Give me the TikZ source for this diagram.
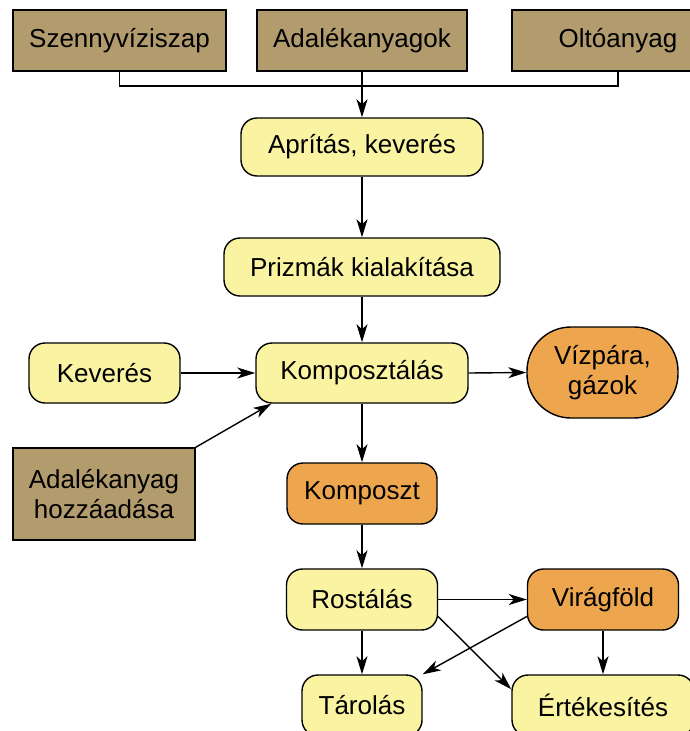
\documentclass[tikz,border=0pt]{standalone}
\usepackage{fontspec}
\setmainfont{Liberation Sans}
\usetikzlibrary{arrows.meta,calc}
\definecolor{tanfill}{RGB}{178,156,110}
\definecolor{paleyellow}{RGB}{250,244,162}
\definecolor{orangefill}{RGB}{238,166,78}
\begin{document}
\begin{tikzpicture}[x=1pt,y=-1pt,
  base/.style={draw=black,line width=1.4pt,font=\fontsize{26}{30}\selectfont,
    align=center,inner sep=0pt,anchor=center},
  source/.style={base,fill=tanfill},
  stage/.style={base,fill=paleyellow,rounded corners=16pt},
  product/.style={base,fill=orangefill,rounded corners=16pt},
  flow/.style={line width=1.4pt,-{Stealth[length=18pt,width=11pt,inset=5pt]}},
  link/.style={line width=1.4pt}]
\useasboundingbox (0,0) rectangle (690,731);

% raw materials
\node[source,minimum width=213pt,minimum height=61pt] (szenny) at (119.5,40.5) {Szennyvíziszap};
\node[source,minimum width=210pt,minimum height=61pt] (adal) at (362,40.5) {Adalékanyagok};
\node[source,minimum width=212pt,minimum height=61pt] (olto) at (618,40.5) {Oltóanyag};

% main process column
\node[stage,minimum width=242pt,minimum height=58pt] (aprit) at (362,147) {Aprítás, keverés};
\node[stage,minimum width=276pt,minimum height=58pt] (prizma) at (362,267) {Prizmák kialakítása};
\node[stage,minimum width=212pt,minimum height=60pt] (komp) at (362,373) {Komposztálás};
\node[stage,minimum width=151pt,minimum height=60pt] (kever) at (104.5,373) {Keverés};
\node[product,rounded corners=44pt,minimum width=151pt,minimum height=91pt] (viz) at (602.5,372.5) {Vízpára,\\gázok};
\node[source,minimum width=182pt,minimum height=92pt] (adh) at (104,494) {Adalékanyag\\hozzáadása};
\node[product,minimum width=150pt,minimum height=61pt] (kompt) at (362,493.5) {Komposzt};
\node[stage,minimum width=151pt,minimum height=61pt] (rost) at (362,599.5) {Rostálás};
\node[product,minimum width=151pt,minimum height=61pt] (vir) at (603,599.5) {Virágföld};
\node[stage,minimum width=120pt,minimum height=61pt] (tar) at (362,705.5) {Tárolás};
\node[stage,minimum width=182pt,minimum height=61pt] (ert) at (603,705.5) {Értékesítés};

% collector line for the raw materials
\coordinate (bus) at (0,86);
\draw[link] (szenny.south) -- (szenny.south |- bus) -- (olto.south |- bus) -- (olto.south);
\draw[flow] (adal.south) -- (aprit.north);

% process flow
\draw[flow] (aprit.south) -- (prizma.north);
\draw[flow] (prizma.south) -- (komp.north);
\draw[flow] (kever.east) -- (komp.west);
\draw[flow] (komp.east) -- (viz.west);
\draw[flow] (adh.north east) -- ($(komp.south west)+(16,0)$);
\draw[flow] (komp.south) -- (kompt.north);
\draw[flow] (kompt.south) -- (rost.north);
\draw[flow] (rost.east) -- (vir.west);
\draw[flow] (rost.south) -- (tar.north);
\draw[flow] ($(rost.east)+(0,17)$) -- ($(ert.north west)+(0,15)$);
\draw[flow] ($(vir.west)+(0,17)$) -- (tar.north east);
\draw[flow] (vir.south) -- (ert.north);
\end{tikzpicture}
\end{document}
